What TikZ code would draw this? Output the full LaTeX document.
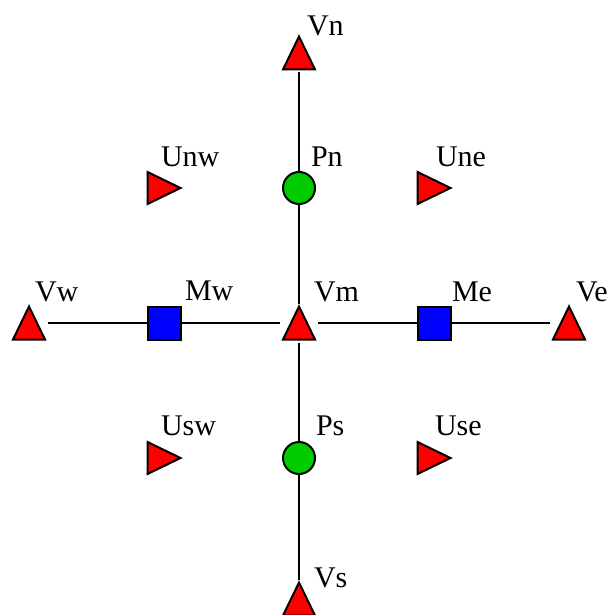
\documentclass[tikz,border=0pt]{standalone}
\usepackage{fontspec}
\setmainfont{Liberation Serif}
\definecolor{pgreen}{rgb}{0,0.8,0}

\begin{document}
\begin{tikzpicture}[x=0.5pt,y=-0.5pt,node distance=67.5pt,line width=1pt,
        vtx/.style={rectangle,minimum width=18pt,minimum height=18.5pt,inner sep=0pt,
          path picture={\draw[fill=red]
            ([shift={(1pt,1pt)}]path picture bounding box.south west) --
            ([shift={(-1pt,1pt)}]path picture bounding box.south east) --
            ([shift={(0pt,-1pt)}]path picture bounding box.north) -- cycle;}},
        utx/.style={rectangle,minimum width=18.5pt,minimum height=18pt,inner sep=0pt,
          path picture={\draw[fill=red]
            ([shift={(1pt,-1pt)}]path picture bounding box.north west) --
            ([shift={(1pt,1pt)}]path picture bounding box.south west) --
            ([shift={(-1pt,0pt)}]path picture bounding box.east) -- cycle;}},
        pnt/.style={circle,minimum size=16pt,inner sep=0pt,draw=black,fill=pgreen},
        mid/.style={rectangle,minimum size=16.5pt,inner sep=0pt,draw=black,fill=blue},
        lbl/.style={anchor=base west,inner sep=0pt,font=\rmfamily\fontsize{15}{18}\selectfont}]
        \useasboundingbox (0,0) rectangle (613,615);
        \node[vtx]            (Vm) at (299,323) {};
        \node[pnt]            (Pn) [above of=Vm] {};
        \node[pnt]            (Ps) [below of=Vm] {};
        \node[mid]            (Mw) [left of=Vm]  {};
        \node[mid]            (Me) [right of=Vm] {};
        \node[vtx]            (Vn) [above of=Pn] {};
        \node[vtx,yshift=-3pt] (Vs) [below of=Ps] {};
        \node[vtx]            (Vw) [left of=Mw]  {};
        \node[vtx]            (Ve) [right of=Me] {};
        \node[utx]            (Unw) [left of=Pn]  {};
        \node[utx]            (Une) [right of=Pn] {};
        \node[utx]            (Usw) [left of=Ps]  {};
        \node[utx]            (Use) [right of=Ps] {};
        % labels
        \node[lbl] (lVn)  at ([shift={(7,-17)}]Vn.center)   {Vn};
        \node[lbl] (lPn)  at ([shift={(11,-22)}]Pn.center)  {Pn};
        \node[lbl] (lUnw) at ([shift={(-4,-22)}]Unw.center) {Unw};
        \node[lbl] (lUne) at ([shift={(1,-22)}]Une.center)  {Une};
        \node[lbl] (lVw)  at ([shift={(5,-22)}]Vw.center)   {Vw};
        \node[lbl] (lMw)  at ([shift={(20,-23)}]Mw.center)  {Mw};
        \node[lbl] (lVm)  at ([shift={(14,-22)}]Vm.center)  {Vm};
        \node[lbl] (lMe)  at ([shift={(17,-22)}]Me.center)  {Me};
        \node[lbl] (lVe)  at ([shift={(6,-22)}]Ve.center)   {Ve};
        \node[lbl] (lUsw) at ([shift={(-4,-23)}]Usw.center) {Usw};
        \node[lbl] (lPs)  at ([shift={(16,-23)}]Ps.center)  {Ps};
        \node[lbl] (lUse) at ([shift={(0,-23)}]Use.center)  {Use};
        \node[lbl] (lVs)  at ([shift={(14,-12)}]Vs.center)  {Vs};
        \path
          (Vn) edge (Pn)
          (Pn) edge (Vm)
          (Vm) edge (Ps)
          (Ps) edge (Vs)
          (Vw) edge (Mw)
          (Mw) edge (Vm)
          (Vm) edge (Me)
          (Me) edge (Ve);
\end{tikzpicture}
\end{document}
